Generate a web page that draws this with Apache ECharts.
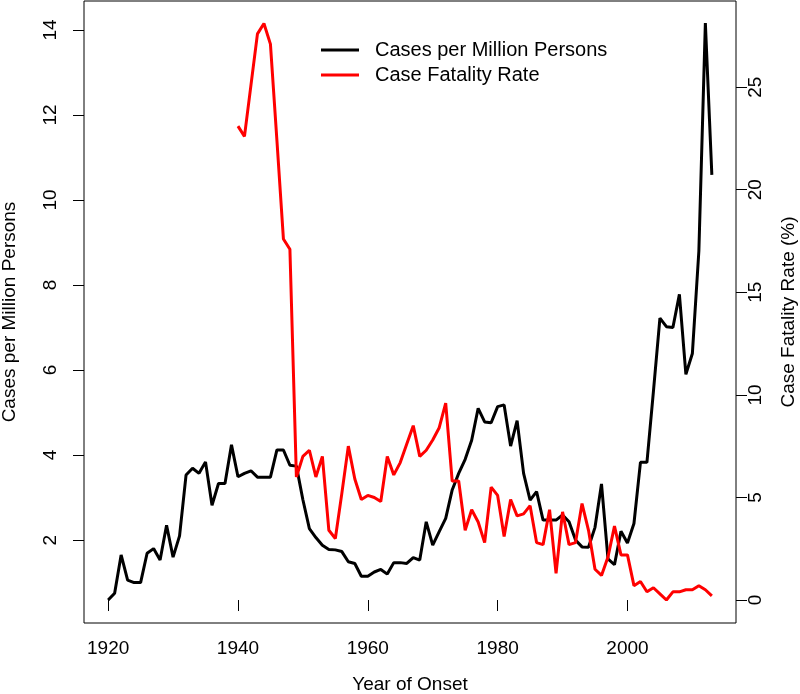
<!DOCTYPE html>
<html><head><meta charset="utf-8">
<script src="https://cdn.jsdelivr.net/npm/echarts@6/dist/echarts.min.js"></script>
<style>html,body{margin:0;padding:0;background:#fff}#c{width:800px;height:694px}</style>
</head><body><div id="c"></div>
<script>
const years = [1920,1921,1922,1923,1924,1925,1926,1927,1928,1929,
  1930,1931,1932,1933,1934,1935,1936,1937,1938,1939,
  1940,1941,1942,1943,1944,1945,1946,1947,1948,1949,
  1950,1951,1952,1953,1954,1955,1956,1957,1958,1959,
  1960,1961,1962,1963,1964,1965,1966,1967,1968,1969,
  1970,1971,1972,1973,1974,1975,1976,1977,1978,1979,
  1980,1981,1982,1983,1984,1985,1986,1987,1988,1989,
  1990,1991,1992,1993,1994,1995,1996,1997,1998,1999,
  2000,2001,2002,2003,2004,2005,2006,2007,2008,2009,
  2010,2011,2012,2013];
const casesPerMillion = [0.59,0.75,1.65,1.06,1.00,1.00,1.69,1.80,1.53,2.35,
  1.60,2.10,3.53,3.69,3.57,3.84,2.82,3.33,3.33,4.24,
  3.49,3.57,3.63,3.48,3.48,3.48,4.12,4.12,3.76,3.74,
  2.95,2.27,2.06,1.88,1.78,1.77,1.73,1.49,1.45,1.15,
  1.15,1.25,1.31,1.20,1.47,1.47,1.45,1.59,1.53,2.43,
  1.88,2.20,2.51,3.18,3.57,3.90,4.35,5.10,4.78,4.76,
  5.14,5.18,4.21,4.81,3.57,2.94,3.14,2.47,2.47,2.47,
  2.59,2.43,2.00,1.84,1.83,2.30,3.32,1.56,1.42,2.21,
  1.93,2.39,3.83,3.83,5.50,7.22,7.02,7.00,7.78,5.90,
  6.39,8.80,14.16,10.59];
const caseFatalityRate = [null,null,null,null,null,null,null,null,null,null,
  null,null,null,null,null,null,null,null,null,null,
  23.1,22.6,25.1,27.6,28.1,27.1,22.4,17.6,17.1,6.0,
  7.0,7.3,6.0,7.0,3.4,3.0,5.2,7.5,5.9,4.9,
  5.1,5.0,4.8,7.0,6.1,6.7,7.6,8.5,7.0,7.3,
  7.8,8.4,9.6,5.8,5.8,3.4,4.4,3.8,2.8,5.5,
  5.1,3.1,4.9,4.1,4.2,4.6,2.8,2.7,4.4,1.3,
  4.3,2.7,2.8,4.7,3.4,1.5,1.2,2.1,3.6,2.2,
  2.2,0.7,0.9,0.4,0.6,0.3,0.0,0.4,0.4,0.5,
  0.5,0.7,0.5,0.2];
const xTicks = [1920,1940,1960,1980,2000];
const leftTicks = [2,4,6,8,10,12,14];
const rightTicks = [0,5,10,15,20,25];
const seriesNames = ['Cases per Million Persons','Case Fatality Rate'];
const xTitle = 'Year of Onset';
const leftTitle = 'Cases per Million Persons';
const rightTitle = 'Case Fatality Rate (%)';

const FONT = 'Liberation Sans, Arial, sans-serif';
const FS = 19;
const chart = echarts.init(document.getElementById('c'), null, {renderer:'canvas'});
const pair = (arr) => years.map((y,i) => [y, arr[i]]);
const plain = (v) => String(v);
const tickStyle = {show:true, inside:false, length:11, lineStyle:{color:'#000', width:1}};
chart.setOption({
  animation:false,
  backgroundColor:'#fff',
  grid:{left:84, right:64, top:1, bottom:71, show:true, borderColor:'#000', borderWidth:1, backgroundColor:'transparent'},
  legend:{
    orient:'vertical', left:316, top:35, itemWidth:38, itemHeight:3, itemGap:5, icon:'rect',
    data:seriesNames,
    textStyle:{fontFamily:FONT, fontSize:20, color:'#000', padding:[0,0,0,11]}
  },
  xAxis:{
    type:'value', min:1916.28, max:2016.72,
    axisLine:{show:false}, splitLine:{show:false},
    axisTick:Object.assign({customValues:xTicks}, tickStyle),
    axisLabel:{customValues:xTicks, formatter:plain, margin:16, fontFamily:FONT, fontSize:FS, color:'#000'}
  },
  yAxis:[{
    type:'value', position:'left', min:0.05, max:14.68,
    axisLine:{show:false}, splitLine:{show:false},
    axisTick:Object.assign({customValues:leftTicks}, tickStyle),
    axisLabel:{customValues:leftTicks, formatter:plain, rotate:90, margin:24, fontFamily:FONT, fontSize:FS, color:'#000'}
  },{
    type:'value', position:'right', min:-1.12, max:29.2,
    axisLine:{show:false}, splitLine:{show:false},
    axisTick:Object.assign({customValues:rightTicks}, tickStyle),
    axisLabel:{customValues:rightTicks, formatter:plain, rotate:90, margin:10, fontFamily:FONT, fontSize:FS, color:'#000'}
  }],
  graphic:[
    {type:'text', x:410, y:685, style:{text:xTitle, font:FS+'px '+FONT, fill:'#000', align:'center', verticalAlign:'middle'}},
    {type:'text', x:10, y:312, rotation:Math.PI/2, style:{text:leftTitle, font:FS+'px '+FONT, fill:'#000', align:'center', verticalAlign:'middle'}},
    {type:'text', x:789, y:312, rotation:Math.PI/2, style:{text:rightTitle, font:FS+'px '+FONT, fill:'#000', align:'center', verticalAlign:'middle'}}
  ],
  series:[{
    name:seriesNames[0], type:'line', yAxisIndex:0, data:pair(casesPerMillion),
    showSymbol:false, symbol:'none', lineStyle:{color:'#000', width:3}, itemStyle:{color:'#000'}
  },{
    name:seriesNames[1], type:'line', yAxisIndex:1, data:pair(caseFatalityRate), connectNulls:false,
    showSymbol:false, symbol:'none', lineStyle:{color:'#ff0000', width:3}, itemStyle:{color:'#ff0000'}
  }]
});
</script></body></html>
